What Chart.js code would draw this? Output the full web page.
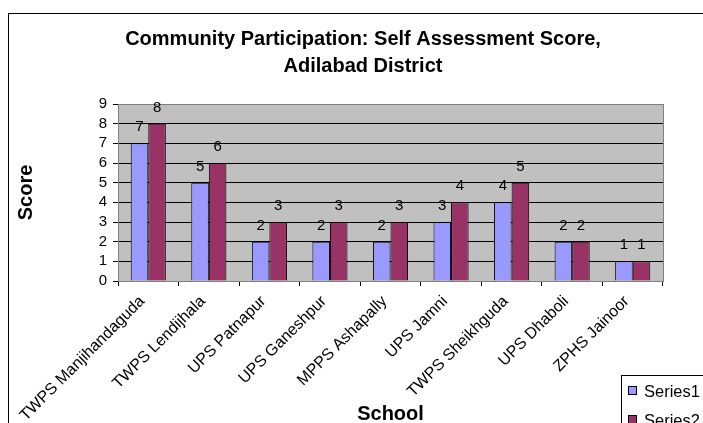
<!DOCTYPE html>
<html>
<head>
<meta charset="utf-8">
<script src="https://cdn.jsdelivr.net/npm/chart.js@4"></script>
<style>
  html, body { margin: 0; padding: 0; background: #fff; overflow: hidden; width: 703px; height: 423px; }
  #grafico { display: block; }
</style>
</head>
<body>
<!-- El gráfico de Excel original sigue más allá del borde derecho e inferior de la captura -->
<canvas id="grafico" width="716" height="430"></canvas>
<script>
// Datos
const ESCUELAS = [
    'TWPS Manjihandaguda', 'TWPS Lendijhala', 'UPS Patnapur', 'UPS Ganeshpur',
    'MPPS Ashapally', 'UPS Jamni', 'TWPS Sheikhguda', 'UPS Dhaboli', 'ZPHS Jainoor',
];
const SERIE1 = [7, 5, 2, 2, 2, 3, 4, 2, 1];
const SERIE2 = [8, 6, 3, 3, 3, 4, 5, 2, 1];
const TICKS_Y = [0, 1, 2, 3, 4, 5, 6, 7, 8, 9];

const FUENTE = "'Liberation Sans', Arial, sans-serif";

// Marco exterior + fondo gris del área de trazado
const fondoPlugin = {
    id: 'fondo',
    beforeDraw(chart) {
        const { ctx, chartArea: a } = chart;
        ctx.save();
        ctx.strokeStyle = '#000';
        ctx.lineWidth = 1;
        ctx.strokeRect(8.5, 13.5, 900, 600);
        ctx.fillStyle = '#C0C0C0';
        ctx.fillRect(a.left, a.top, a.right - a.left, a.bottom - a.top);
        ctx.restore();
    },
    afterDatasetsDraw(chart) {
        const { ctx, chartArea: a } = chart;
        ctx.save();
        ctx.strokeStyle = '#808080';
        ctx.lineWidth = 1;
        ctx.strokeRect(Math.round(a.left) + 0.5, Math.round(a.top) + 0.5,
            Math.round(a.right - a.left), Math.round(a.bottom - a.top));
        ctx.restore();
    },
};

// Etiquetas de valor encima de cada barra
const etiquetasPlugin = {
    id: 'etiquetas',
    afterDatasetsDraw(chart) {
        const { ctx } = chart;
        ctx.save();
        ctx.fillStyle = '#000';
        ctx.font = `15px ${FUENTE}`;
        ctx.textAlign = 'center';
        ctx.textBaseline = 'alphabetic';
        chart.data.datasets.forEach((ds, i) => {
            chart.getDatasetMeta(i).data.forEach((bar, j) => {
                ctx.fillText(String(ds.data[j]), bar.x, bar.y - 12);
            });
        });
        ctx.restore();
    },
};

// Leyenda al estilo Excel, abajo a la derecha (queda cortada por el borde)
const leyendaPlugin = {
    id: 'leyendaExcel',
    afterDraw(chart) {
        const { ctx } = chart;
        const x0 = 621, y0 = 375;
        ctx.save();
        ctx.strokeStyle = '#000';
        ctx.lineWidth = 1;
        ctx.fillStyle = '#fff';
        ctx.fillRect(x0 + 0.5, y0 + 0.5, 120, 80);
        ctx.strokeRect(x0 + 0.5, y0 + 0.5, 120, 80);
        ctx.font = `16.5px ${FUENTE}`;
        ctx.textBaseline = 'middle';
        chart.data.datasets.forEach((ds, i) => {
            const y = y0 + 16 + i * 29;
            ctx.fillStyle = ds.backgroundColor;
            ctx.fillRect(x0 + 7.5, y - 4.5, 8, 8);
            ctx.strokeRect(x0 + 7.5, y - 4.5, 8, 8);
            ctx.fillStyle = '#000';
            ctx.fillText(ds.label, x0 + 23, y + 1);
        });
        ctx.restore();
    },
};

new Chart(document.getElementById('grafico').getContext('2d'), {
    type: 'bar',
    data: {
        labels: ESCUELAS,
        datasets: [
            {
                label: 'Series1',
                data: SERIE1,
                backgroundColor: '#9999FF',
                borderColor: '#000',
                borderWidth: 1,
                categoryPercentage: 0.58,
                barPercentage: 1,
            },
            {
                label: 'Series2',
                data: SERIE2,
                backgroundColor: '#993366',
                borderColor: '#000',
                borderWidth: 1,
                categoryPercentage: 0.58,
                barPercentage: 1,
            },
        ],
    },
    options: {
        responsive: false,
        animation: false,
        layout: { padding: { left: 10, right: 0, top: 0, bottom: 0 } },
        plugins: {
            legend: { display: false },
            tooltip: { enabled: false },
            title: {
                display: true,
                text: ['Community Participation: Self Assessment Score,', 'Adilabad District'],
                color: '#000',
                font: { family: FUENTE, size: 20, weight: 'bold', lineHeight: 1.35 },
                padding: { top: 26, bottom: 24 },
            },
        },
        scales: {
            x: {
                offset: true,
                grid: { drawOnChartArea: false, offset: true, color: '#000', tickLength: 5 },
                border: { color: '#000' },
                ticks: {
                    color: '#000',
                    font: { family: FUENTE, size: 16 },
                    minRotation: 45,
                    maxRotation: 45,
                    autoSkip: false,
                    padding: 6,
                    labelOffset: -6,
                },
                title: {
                    display: true,
                    text: 'School',
                    color: '#000',
                    font: { family: FUENTE, size: 20, weight: 'bold' },
                },
                afterFit(scale) { scale.height = 430 - 281; },
            },
            y: {
                min: 0,
                max: 9,
                afterBuildTicks(scale) { scale.ticks = TICKS_Y.map(v => ({ value: v })); },
                grid: { color: '#000', tickLength: 5 },
                border: { color: '#000' },
                ticks: {
                    color: '#000',
                    font: { family: FUENTE, size: 15 },
                    padding: 6,
                    autoSkip: false,
                },
                title: {
                    display: true,
                    text: 'Score',
                    color: '#000',
                    font: { family: FUENTE, size: 20, weight: 'bold' },
                },
                afterFit(scale) { scale.width = 108; },
            },
            // Hueco a la derecha del área de trazado (ahí vive la leyenda en Excel);
            // así el título queda centrado sobre todo el gráfico, no solo sobre el área.
            margenDerecho: {
                type: 'linear',
                position: 'right',
                grid: { display: false },
                border: { display: false },
                ticks: { display: false },
                afterFit(scale) { scale.width = 53; },
            },
        },
    },
    plugins: [fondoPlugin, etiquetasPlugin, leyendaPlugin],
});
</script>
</body>
</html>
